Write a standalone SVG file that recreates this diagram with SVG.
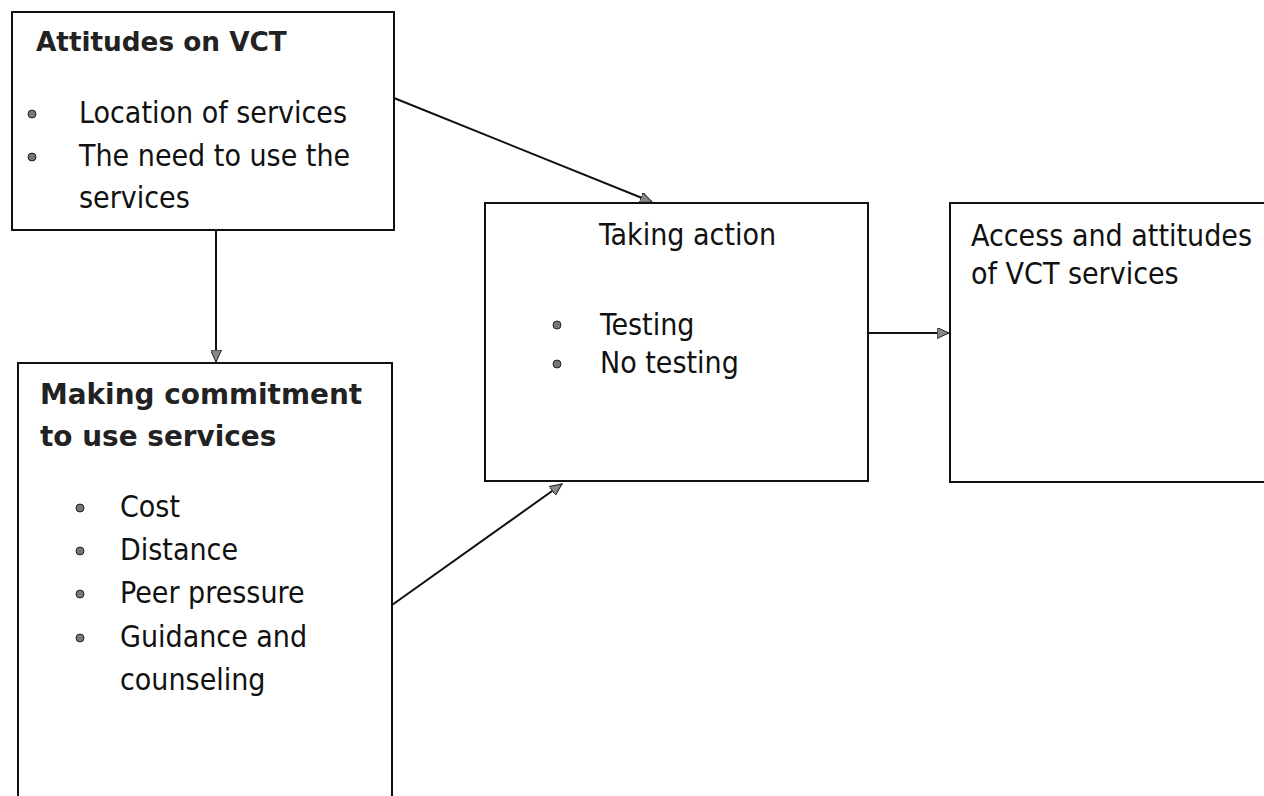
<svg xmlns="http://www.w3.org/2000/svg" width="1264" height="796" viewBox="0 0 1264 796">
<style>
.box{fill:#fff;stroke:#111;stroke-width:2}
.t{font-family:"DejaVu Sans Condensed","DejaVu Sans",sans-serif;font-stretch:condensed;font-size:30px;fill:#111}
.b{font-family:"DejaVu Sans","Liberation Sans",sans-serif;font-weight:bold;fill:#222}
.dot{fill:#777;stroke:#222;stroke-width:1}
.conn{stroke:#111;stroke-width:2;fill:none}
</style>
<defs>
<marker id="arr" markerWidth="13" markerHeight="11" refX="12" refY="5.5" orient="auto" markerUnits="userSpaceOnUse">
<path d="M0,0 L12,5.5 L0,11 Z" fill="#888" stroke="#222" stroke-width="1"/>
</marker>
</defs>
<rect width="1264" height="796" fill="#fff"/>
<g id="connectors">
<line class="conn" x1="216" y1="230" x2="216" y2="362" marker-end="url(#arr)"/>
<line class="conn" x1="394" y1="98" x2="652" y2="202" marker-end="url(#arr)"/>
<line class="conn" x1="392" y1="605" x2="562" y2="484" marker-end="url(#arr)"/>
<line class="conn" x1="868" y1="333" x2="949" y2="333" marker-end="url(#arr)"/>
</g>
<g id="attitudes">
<rect class="box" x="12" y="12" width="382" height="218"/>
<text class="b" x="36" y="51" font-size="26.3">Attitudes on VCT</text>
<circle class="dot" cx="32" cy="114" r="4"/>
<text class="t" x="79" y="123">Location of services</text>
<circle class="dot" cx="32" cy="157" r="4"/>
<text class="t" x="79" y="166">The need to use the</text>
<text class="t" x="79" y="208">services</text>
</g>
<g id="commitment">
<rect class="box" x="18" y="363" width="374" height="450"/>
<text class="b" x="40" y="404" font-size="27.9">Making commitment</text>
<text class="b" x="40" y="446" font-size="27.9">to use services</text>
<circle class="dot" cx="80" cy="508" r="4"/>
<text class="t" x="120" y="517">Cost</text>
<circle class="dot" cx="80" cy="551" r="4"/>
<text class="t" x="120" y="560">Distance</text>
<circle class="dot" cx="80" cy="594" r="4"/>
<text class="t" x="120" y="603">Peer pressure</text>
<circle class="dot" cx="80" cy="638" r="4"/>
<text class="t" x="120" y="647">Guidance and</text>
<text class="t" x="120" y="690">counseling</text>
</g>
<g id="taking-action">
<rect class="box" x="485" y="203" width="383" height="278"/>
<text class="t" x="599" y="245">Taking action</text>
<circle class="dot" cx="557" cy="325" r="4"/>
<text class="t" x="600" y="335">Testing</text>
<circle class="dot" cx="557" cy="364" r="4"/>
<text class="t" x="600" y="373">No testing</text>
</g>
<g id="access">
<rect class="box" x="950" y="203" width="330" height="279"/>
<text class="t" x="971" y="246">Access and attitudes</text>
<text class="t" x="971" y="284">of VCT services</text>
</g>
</svg>
